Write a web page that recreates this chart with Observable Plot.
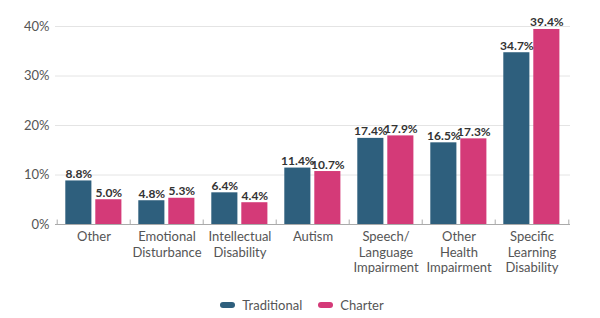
<!DOCTYPE html>
<html>
<head>
<meta charset="utf-8">
<script src="https://cdn.jsdelivr.net/npm/d3@7"></script>
<script src="https://cdn.jsdelivr.net/npm/@observablehq/plot@0.6"></script>
<style>
  body { margin: 0; background: #fff; font-family: Lato, "Open Sans", sans-serif; }
  #chart { width: 600px; }
  .legend { display: flex; justify-content: center; align-items: center; gap: 16px; font-size: 13px; color: #555; margin-top: 13px; padding-left: 4px; }
  .legend .item { display: flex; align-items: center; gap: 7px; }
  .legend .sw { width: 15px; height: 6px; border-radius: 3px; display: inline-block; }
</style>
</head>
<body>
<div id="chart"></div>
<script>
const categories = ["Other", "Emotional Disturbance", "Intellectual Disability", "Autism", "Speech/Language Impairment", "Other Health Impairment", "Specific Learning Disability"];
const categoryLabels = ["Other", "Emotional\nDisturbance", "Intellectual\nDisability", "Autism", "Speech/\nLanguage\nImpairment", "Other\nHealth\nImpairment", "Specific\nLearning\nDisability"];
const series = ["Traditional", "Charter"];
const traditional = [8.8, 4.8, 6.4, 11.4, 17.4, 16.5, 34.7];
const charter = [5.0, 5.3, 4.4, 10.7, 17.9, 17.3, 39.4];
const colors = ["#2e5f7d", "#d43a78"];
const yTicks = [0, 10, 20, 30, 40];

const tradData = categories.map((c, i) => ({category: c, series: "Traditional", value: traditional[i]}));
const charData = categories.map((c, i) => ({category: c, series: "Charter", value: charter[i]}));
const labelOf = new Map(categories.map((c, i) => [c, categoryLabels[i]]));

const width = 600, marginLeft = 55, marginRight = 30;
const step = (width - marginLeft - marginRight) / categories.length;

const chart = Plot.plot({
  width, height: 284,
  marginLeft, marginRight, marginTop: 26, marginBottom: 60,
  style: {fontFamily: "Lato, sans-serif", fontSize: "13px", color: "#555"},
  x: {domain: categories, padding: 0, label: null},
  y: {domain: [0, 40], label: null},
  color: {domain: series, range: colors},
  marks: [
    Plot.gridY(yTicks, {stroke: "#e4e4e4", strokeOpacity: 1}),
    Plot.barY(tradData, {x: "category", y: "value", fill: "series", insetLeft: 8.3, insetRight: 38.6}),
    Plot.barY(charData, {x: "category", y: "value", fill: "series", insetLeft: 38.3, insetRight: 8.6}),
    Plot.text(tradData, {x: "category", y: "value", text: d => d.value.toFixed(1) + "%", dx: -15.1, dy: -3, lineAnchor: "bottom", fontWeight: "bold", fill: "#333", fontSize: 12}),
    Plot.text(charData, {x: "category", y: "value", text: d => d.value.toFixed(1) + "%", dx: 14.9, dy: -3, lineAnchor: "bottom", fontWeight: "bold", fill: "#333", fontSize: 12}),
    Plot.ruleY([0], {stroke: "#aaa"}),
    Plot.ruleX(categories, {x: d => d, y1: 0, y2: 0.9, dx: -step / 2, stroke: "#aaa"}),
    Plot.ruleX(categories.slice(-1), {x: d => d, y1: 0, y2: 0.9, dx: step / 2, stroke: "#aaa"}),
    Plot.axisY(yTicks, {tickSize: 0, tickPadding: 6, tickFormat: d => d + "%", fill: "#555", fontSize: 13}),
    Plot.axisX({tickSize: 0, tickPadding: 6, tickFormat: d => labelOf.get(d), lineHeight: 1.18, fill: "#555", fontSize: 13})
  ]
});
document.getElementById("chart").append(chart);

const legend = document.createElement("div");
legend.className = "legend";
series.forEach((s, i) => {
  const item = document.createElement("span");
  item.className = "item";
  const sw = document.createElement("span");
  sw.className = "sw";
  sw.style.background = colors[i];
  const t = document.createElement("span");
  t.textContent = s;
  item.append(sw, t);
  legend.append(item);
});
document.getElementById("chart").append(legend);
</script>
</body>
</html>
